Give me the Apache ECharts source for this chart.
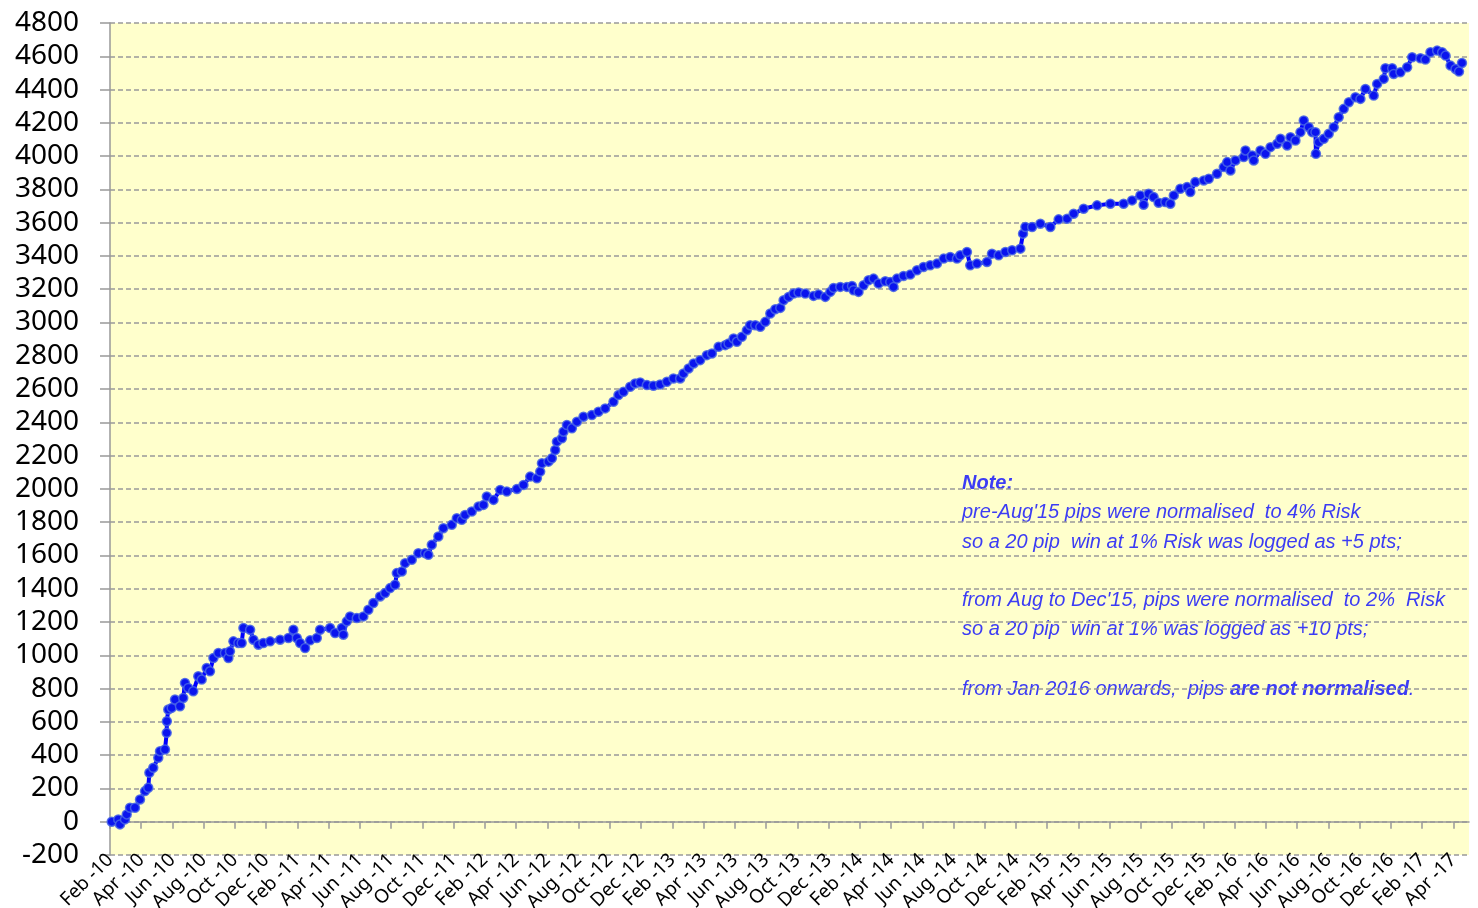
<!DOCTYPE html>
<html>
<head>
<meta charset="utf-8">
<script src="https://cdn.jsdelivr.net/npm/echarts@6/dist/echarts.min.js"></script>
<style>html,body{margin:0;padding:0;background:#fff}#c{width:1478px;height:908px}</style>
</head>
<body>
<div id="c"></div>
<script>
// x = months since Feb 2010, y = cumulative pips
const months = [0.11,0.53,0.64,0.96,1.07,1.28,1.60,1.92,2.24,2.45,2.52,2.77,3.09,3.20,3.52,3.63,3.64,3.73,3.95,4.16,4.48,4.69,4.80,5.01,5.33,5.65,5.87,6.19,6.40,6.62,6.94,7.36,7.58,7.68,7.90,8.22,8.43,8.54,8.97,9.18,9.50,9.82,10.25,10.89,11.42,11.74,11.96,12.17,12.49,12.81,13.24,13.45,14.09,14.41,14.84,14.94,15.16,15.37,15.80,16.22,16.54,16.86,17.29,17.61,17.93,18.25,18.36,18.68,18.89,19.32,19.74,20.17,20.38,20.60,21.02,21.34,21.88,22.20,22.52,22.73,23.16,23.59,23.91,24.12,24.55,24.98,25.40,26.05,26.47,26.90,27.33,27.54,27.65,28.07,28.29,28.50,28.61,28.93,29.03,29.25,29.57,29.89,30.31,30.85,31.27,31.70,32.23,32.55,32.87,33.30,33.62,33.94,34.37,34.79,35.22,35.65,36.07,36.50,36.71,37.04,37.36,37.78,38.21,38.53,38.96,39.39,39.60,39.92,40.13,40.45,40.77,40.98,41.31,41.63,41.95,42.27,42.59,42.91,43.12,43.44,43.76,44.08,44.51,45.04,45.36,45.79,46.11,46.32,46.75,47.18,47.50,47.60,47.92,48.24,48.56,48.88,49.20,49.63,49.95,50.16,50.38,50.80,51.23,51.66,52.08,52.51,52.94,53.37,53.79,54.22,54.43,54.86,55.07,55.50,56.14,56.46,56.89,57.32,57.75,58.28,58.45,58.60,59.03,59.56,60.20,60.73,61.27,61.69,62.33,63.19,64.04,64.89,65.43,65.96,66.17,66.49,66.81,67.13,67.56,67.88,68.10,68.52,68.95,69.16,69.48,70.02,70.34,70.87,71.30,71.52,71.73,72.05,72.58,72.69,73.12,73.22,73.65,73.97,74.29,74.72,74.93,75.36,75.57,75.89,76.21,76.42,76.74,76.96,77.17,77.20,77.38,77.70,78.02,78.34,78.66,78.98,79.31,79.73,80.05,80.37,80.90,81.12,81.54,81.65,82.08,82.18,82.61,83.04,83.36,83.89,84.21,84.53,84.96,85.28,85.50,85.82,86.14,86.36,86.55];
const pips = [0,14,-16,14,44,84,84,134,184,204,294,324,384,424,434,534,604,674,684,734,694,744,834,804,784,874,854,924,904,984,1014,1014,984,1024,1084,1074,1074,1164,1154,1094,1064,1074,1084,1094,1104,1154,1104,1074,1044,1090,1104,1154,1164,1134,1164,1124,1204,1234,1224,1234,1274,1314,1354,1374,1404,1424,1494,1504,1554,1574,1614,1614,1604,1664,1714,1764,1784,1824,1814,1844,1864,1894,1904,1954,1934,1994,1984,2000,2024,2074,2064,2104,2154,2164,2184,2234,2284,2304,2344,2384,2364,2404,2434,2444,2464,2484,2524,2564,2584,2614,2634,2640,2624,2620,2628,2644,2664,2664,2694,2724,2754,2774,2804,2814,2854,2864,2874,2904,2884,2914,2954,2984,2984,2974,3004,3054,3080,3088,3134,3154,3174,3180,3174,3160,3168,3154,3184,3208,3214,3214,3220,3194,3184,3224,3254,3264,3234,3248,3244,3214,3264,3280,3288,3314,3334,3344,3354,3384,3394,3384,3404,3424,3344,3354,3364,3414,3404,3424,3434,3444,3534,3574,3574,3594,3574,3620,3624,3654,3684,3704,3714,3714,3734,3764,3708,3774,3754,3720,3724,3714,3764,3804,3814,3784,3844,3854,3864,3894,3934,3964,3914,3974,3994,4034,4004,3974,4034,4014,4054,4074,4104,4064,4114,4094,4144,4214,4174,4144,4144,4014,4084,4104,4134,4174,4234,4284,4324,4354,4344,4404,4364,4434,4464,4528,4528,4494,4504,4534,4594,4588,4580,4624,4634,4624,4604,4544,4524,4508,4560];
const xTickMonths = [0,2,4,6,8,10,12,14,16,18,20,22,24,26,28,30,32,34,36,38,40,42,44,46,48,50,52,54,56,58,60,62,64,66,68,70,72,74,76,78,80,82,84,86];
const xTickLabels = ["Feb -10","Apr -10","Jun -10","Aug -10","Oct -10","Dec -10","Feb -11","Apr -11","Jun -11","Aug -11","Oct -11","Dec -11","Feb -12","Apr -12","Jun -12","Aug -12","Oct -12","Dec -12","Feb -13","Apr -13","Jun -13","Aug -13","Oct -13","Dec -13","Feb -14","Apr -14","Jun -14","Aug -14","Oct -14","Dec -14","Feb -15","Apr -15","Jun -15","Aug -15","Oct -15","Dec -15","Feb -16","Apr -16","Jun -16","Aug -16","Oct -16","Dec -16","Feb -17","Apr -17"];
const noteLines = [
  "pre-Aug'15 pips were normalised  to 4% Risk",
  "so a 20 pip  win at 1% Risk was logged as +5 pts;",
  "from Aug to Dec'15, pips were normalised  to 2%  Risk",
  "so a 20 pip  win at 1% was logged as +10 pts;"
];

const data = months.map((m, i) => [m, pips[i]]);
const labelMap = {};
xTickMonths.forEach((m, i) => { labelMap[m] = xTickLabels[i]; });

const chart = echarts.init(document.getElementById('c'));
const blue = '#3c3cf4';
const noteFont = 'Liberation Sans';
function noteText(txt, y, bold) {
  return {
    type: 'text', left: 962, top: y,
    style: { text: txt, fill: blue, font: (bold ? 'italic bold ' : 'italic ') + '20px "' + noteFont + '"' }
  };
}
chart.setOption({
  animation: false,
  grid: { left: 110, right: 9, top: 23, bottom: 53, outerBoundsMode: 'none', containLabel: false,
          show: true, backgroundColor: '#ffffcc', borderWidth: 0 },
  xAxis: [
    {
      type: 'value', min: 0, max: 87, position: 'bottom',
      axisLine: { show: false, onZero: false },
      axisTick: { show: false },
      splitLine: { show: false },
      axisLabel: {
        customValues: xTickMonths,
        formatter: v => labelMap[v] || '',
        rotate: 45, margin: 2, color: '#000', fontSize: 19, fontFamily: 'Noto Sans'
      }
    },
    {
      type: 'value', min: 0, max: 87, position: 'bottom',
      axisLine: { show: true, onZero: true, lineStyle: { color: '#999', width: 1.5 } },
      axisTick: { show: true, customValues: xTickMonths, length: 7, lineStyle: { color: '#999', width: 1.5 } },
      axisLabel: { show: false },
      splitLine: { show: false }
    }
  ],
  yAxis: {
    type: 'value', min: -200, max: 4800, interval: 200,
    axisLine: { show: true, lineStyle: { color: '#999', width: 1.5 } },
    axisTick: { show: true, length: 10, lineStyle: { color: '#999', width: 1.5 } },
    axisLabel: { color: '#000', fontSize: 28, fontFamily: 'Noto Sans', margin: 31, formatter: v => String(v) },
    splitLine: { show: true, lineStyle: { color: '#999', width: 1.5, type: [5, 3] } }
  },
  series: [{
    type: 'line', xAxisIndex: 1, data: data,
    showAllSymbol: true, symbol: 'circle', symbolSize: 9,
    lineStyle: { color: '#0000ff', width: 4 },
    itemStyle: { color: '#0a14ee', borderColor: 'rgba(70,100,230,0.85)', borderWidth: 1.5 }
  }],
  graphic: [
    noteText('Note:', 473, true),
    noteText(noteLines[0], 502, false),
    noteText(noteLines[1], 532, false),
    noteText(noteLines[2], 590, false),
    noteText(noteLines[3], 619, false),
    {
      type: 'text', left: 962, top: 679,
      style: {
        text: '{a|from Jan 2016 onwards,  pips }{b|are not normalised}{a|.}',
        rich: {
          a: { fill: blue, font: 'italic 20px "' + noteFont + '"' },
          b: { fill: blue, font: 'italic bold 20px "' + noteFont + '"' }
        }
      }
    }
  ]
});
</script>
</body>
</html>
